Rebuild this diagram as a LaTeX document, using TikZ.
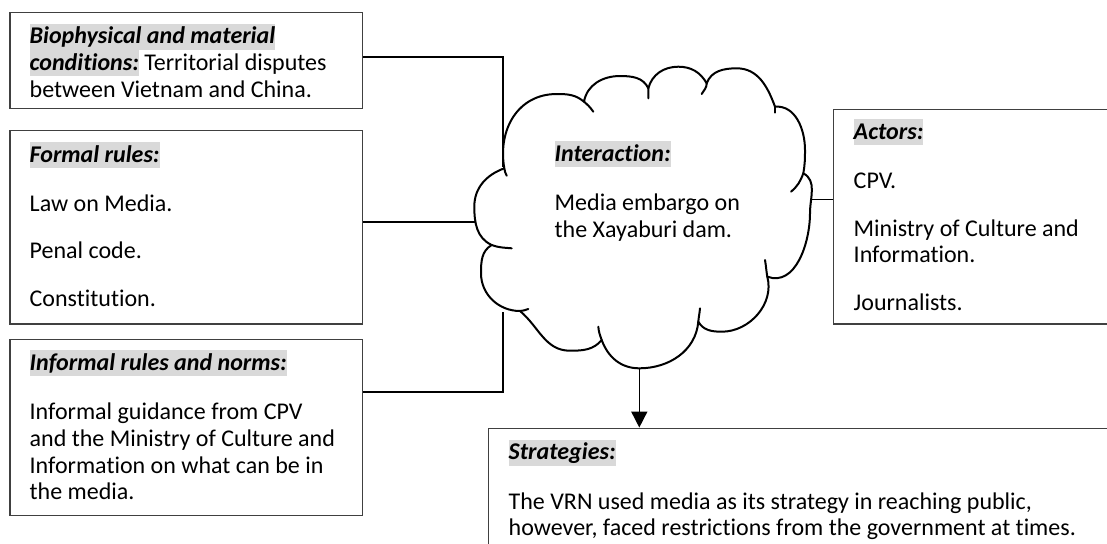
\documentclass[tikz,border=0pt]{standalone}
\usepackage{fontspec}
\setmainfont{Carlito}[Ligatures={NoCommon,NoRequired,NoContextual}]
\usetikzlibrary{arrows.meta,fit}
\definecolor{hlgray}{RGB}{217,217,217}
\definecolor{boxline}{RGB}{64,64,64}
\newcommand{\hl}[1]{{\setlength{\fboxsep}{0pt}\colorbox{hlgray}{\rule[-3pt]{0pt}{13pt}\textbf{\textit{#1}}}}}
\begin{document}
\begin{tikzpicture}[x=0.5pt,y=0.5pt,
  box/.style={draw=boxline, line width=0.75pt, inner sep=0pt},
  txt/.style={anchor=north west, inner sep=0pt, align=left, font=\fontsize{12}{13.35}\selectfont},
  conn/.style={draw=black, line width=0.8pt},
  cloudline/.style={draw=black, line width=1pt, line join=round, line cap=round},
  stub/.style={draw=black, line width=1pt, line cap=round}]
\useasboundingbox (0,0) rectangle (1107,-543);
\clip (0,0) rectangle (1107,-543);

% boxes
\node[box, fit={(10,-12.7) (362.7,-108.7)}] (bio) {};
\node[box, fit={(10,-130.7) (362.7,-324)}] (formal) {};
\node[box, fit={(10,-339.3) (362.7,-515.7)}] (informal) {};
\node[box, fit={(833.3,-109.3) (1130,-324)}] (actors) {};
\node[box, fit={(488.3,-428.3) (1130,-580)}] (strat) {};

% texts
\node[txt] (biot) at (29.3,-23.3) {\hl{Biophysical and material}\\ \hl{conditions:} Territorial disputes\\ between Vietnam and China.};
\node[txt] (formalt) at (29.3,-141.7) {\hl{Formal rules:}\\[11.3pt] Law on Media.\\[10.4pt] Penal code.\\[10.4pt] Constitution.};
\node[txt] (informalt) at (29.3,-350) {\hl{Informal rules and norms:}\\[11.3pt] Informal guidance from CPV\\ and the Ministry of Culture and\\ Information on what can be in\\ the media.};
\node[txt] (actorst) at (853.3,-119) {\hl{Actors:}\\[11.3pt] CPV.\\[10.4pt] Ministry of Culture and\\ Information.\\[10.4pt] Journalists.};
\node[txt] (stratt) at (508.3,-439.3) {\hl{Strategies:}\\[11.3pt] The VRN used media as its strategy in reaching public,\\ however, faced restrictions from the government at times.};

% cloud points
\coordinate (J1) at (504.3,-168.3);
\coordinate (Aa) at (556.7,-94);
\coordinate (J2) at (584,-101.7);
\coordinate (Ba) at (620,-76);
\coordinate (J3) at (648.3,-88.3);
\coordinate (Ca) at (678.3,-66.7);
\coordinate (J4) at (706.7,-83.3);
\coordinate (Da) at (736.7,-68.3);
\coordinate (J5) at (775,-106.7);
\coordinate (Ea) at (805,-150);
\coordinate (J6) at (803.3,-173.3);
\coordinate (Fa) at (810,-213);
\coordinate (J7) at (767.3,-276.7);
\coordinate (Ga) at (721.7,-331.7);
\coordinate (J8) at (698.3,-321.7);
\coordinate (Ha) at (639.3,-368.3);
\coordinate (J9) at (601.7,-340);
\coordinate (Ia) at (570,-350.7);
\coordinate (J10) at (520,-311);
\coordinate (Ka) at (481,-273.3);
\coordinate (J11) at (491.7,-245);
\coordinate (La) at (474.3,-206.7);

% connector end points on the cloud
\coordinate (cbio) at (502.7,-167);
\coordinate (cformal) at (475,-221.7);
\coordinate (cinf) at (502.7,-312);
\coordinate (cact) at (812,-199.3);
\coordinate (kbio) at (0,-56.7);
\coordinate (kinf) at (0,-391.7);

% connectors
\draw[conn] (bio.east |- kbio) -| (cbio);
\draw[conn] (formal.east |- cformal) -- (cformal);
\draw[conn] (informal.east |- kinf) -| (cinf);
\draw[conn] (cact) -- (actors.west |- cact);
\draw[conn, -{Triangle[width=8pt,length=8pt]}] (Ha) -- (strat.north -| Ha);

% cloud
\draw[cloudline, fill=white] (J1) to[out=100,in=180,looseness=1.1] (Aa) to[out=0,in=140] (J2)
  to[out=80,in=180] (Ba) to[out=0,in=115] (J3)
  to[out=75,in=180] (Ca) to[out=0,in=120] (J4)
  to[out=70,in=180] (Da) to[out=0,in=110] (J5)
  to[out=5,in=90] (Ea) to[out=-90,in=80] (J6)
  to[out=-28,in=90] (Fa) to[out=-90,in=-20] (J7)
  to[out=-75,in=0] (Ga) to[out=180,in=-60] (J8)
  to[out=-95,in=0] (Ha) to[out=180,in=-70] (J9)
  to[out=-130,in=0] (Ia) to[out=180,in=-40] (J10)
  to[out=180,in=-90] (Ka) to[out=90,in=-150] (J11)
  to[out=155,in=-90] (La) to[out=90,in=-160] (J1) -- cycle;

% inner stubs
\draw[stub] (J1) to[out=-80,in=120] (506.7,-175.7);
\draw[stub] (J2) to[out=-40,in=125] (593.3,-111.7);
\draw[stub] (J3) to[out=-80,in=95] (648.3,-98.3);
\draw[stub] (J4) to[out=-90,in=60] (701.7,-94);
\draw[stub] (J5) to[out=-80,in=100] (775,-112.7);
\draw[stub] (J6) to[out=-110,in=40] (791,-191.7);
\draw[stub] (J7) to[out=100,in=-80] (765,-260);
\draw[stub] (J8) to[out=85,in=-95] (700,-308.3);
\draw[stub] (J9) to[out=110,in=-85] (598.3,-326.7);
\draw[stub] (J10) to[out=5,in=-160] (528.3,-309);
\draw[stub] (J11) to[out=-20,in=175] (511.7,-248.3);

% interaction text
\node[txt] (intert) at (554.3,-141) {\hl{Interaction:}\\[11.3pt] Media embargo on\\ the Xayaburi dam.};
\end{tikzpicture}
\end{document}
